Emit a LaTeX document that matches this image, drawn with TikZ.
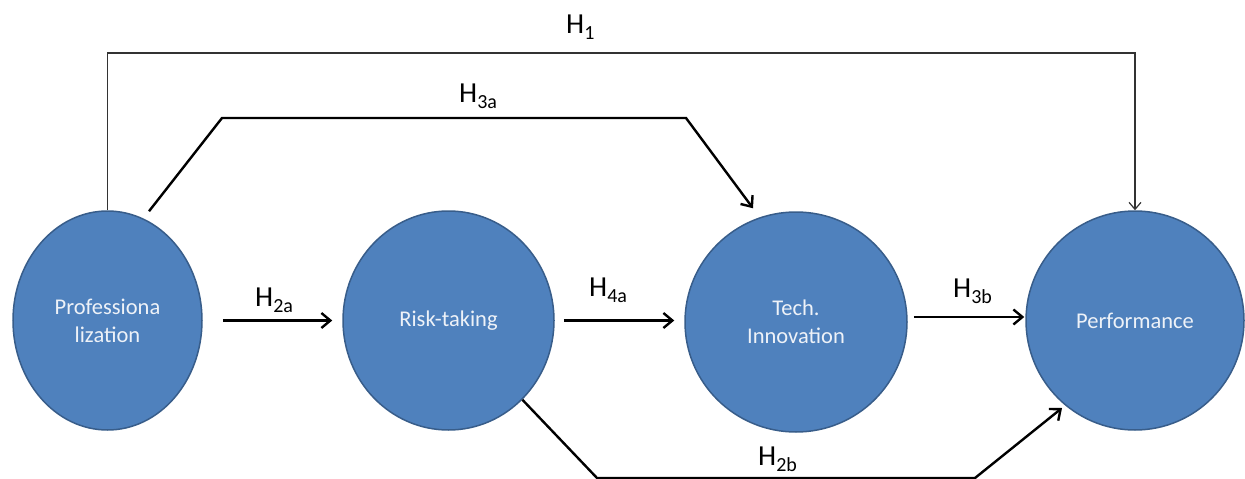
\documentclass[tikz,border=0pt]{standalone}
\usepackage{fontspec}
\setmainfont{Carlito}
\usetikzlibrary{shapes.geometric,arrows.meta,calc}
\definecolor{nodefill}{HTML}{4F81BD}
\definecolor{nodeedge}{HTML}{385D8A}
\definecolor{nodetext}{HTML}{EEF2F8}
\newcommand{\hyp}[2]{H\raisebox{-0.22em}{\fontsize{20}{20}\selectfont #2}}
\begin{document}
\begin{tikzpicture}[x=1pt,y=-1pt,
  construct/.style={ellipse,draw=nodeedge,line width=1.5pt,fill=nodefill,inner sep=0pt,
    text=nodetext,align=center,font=\fontsize{22.5}{28}\selectfont},
  thickarrow/.style={line width=2.4pt,-{Straight Barb[length=9pt,width=15pt]}},
  thinarrow/.style={line width=1.2pt,draw=black!80,-{Straight Barb[length=7pt,width=12pt]}},
  hlabel/.style={inner sep=0pt,anchor=base west,font=\fontsize{29}{29}\selectfont}]
\useasboundingbox (0,0) rectangle (1245,479);
\node[construct,minimum width=189pt,minimum height=219pt] (prof) at (107.5,320.5) {Professiona\\lization};
\node[construct,minimum width=211pt,minimum height=219pt] (risk) at (448.5,320.5) {Risk-taking};
\node[construct,minimum width=222pt,minimum height=220pt] (tech) at (796,322) {Tech.\\Innovation};
\node[construct,minimum width=218pt,minimum height=219pt] (perf) at (1135,320.5) {Performance};
% H1
\coordinate (h1l) at (107.5,53);
\coordinate (h1r) at (1135,53);
\draw[thinarrow] (prof.north) -- (h1l) -- (h1r) -- (perf.north);
% H3a
\coordinate (h3al) at (222,118);
\coordinate (h3ar) at (686,118);
\draw[thickarrow] ($(prof.north)+(41.5,1)$) -- (h3al) -- (h3ar) -- ($(tech.north)+(-43,-3)$);
% straight arrows
\draw[thickarrow] ($(prof.east)+(20,0)$) -- ($(risk.west)+(-10,0)$);
\draw[thickarrow] ($(risk.east)+(9,0)$) -- ($(tech.west)+(-10,-1.5)$);
\draw[thickarrow] ($(tech.east)+(6,-5)$) -- ($(perf.west)+(-1,-3.5)$);
% H2b
\coordinate (b1) at (597,478);
\coordinate (b2) at (975,478);
\draw[thickarrow] (risk.-47) -- (b1) -- (b2) -- ($(perf.center)+(-73,87.5)$);
% labels
\node[hlabel] (l1) at (566,33) {\hyp{H}{1}};
\node[hlabel] (l3a) at (459,102) {\hyp{H}{3a}};
\node[hlabel] (l2a) at (255,306) {\hyp{H}{2a}};
\node[hlabel] (l4a) at (589,296) {\hyp{H}{4a}};
\node[hlabel] (l3b) at (953,297) {\hyp{H}{3b}};
\node[hlabel] (l2b) at (758,465) {\hyp{H}{2b}};
\end{tikzpicture}
\end{document}
